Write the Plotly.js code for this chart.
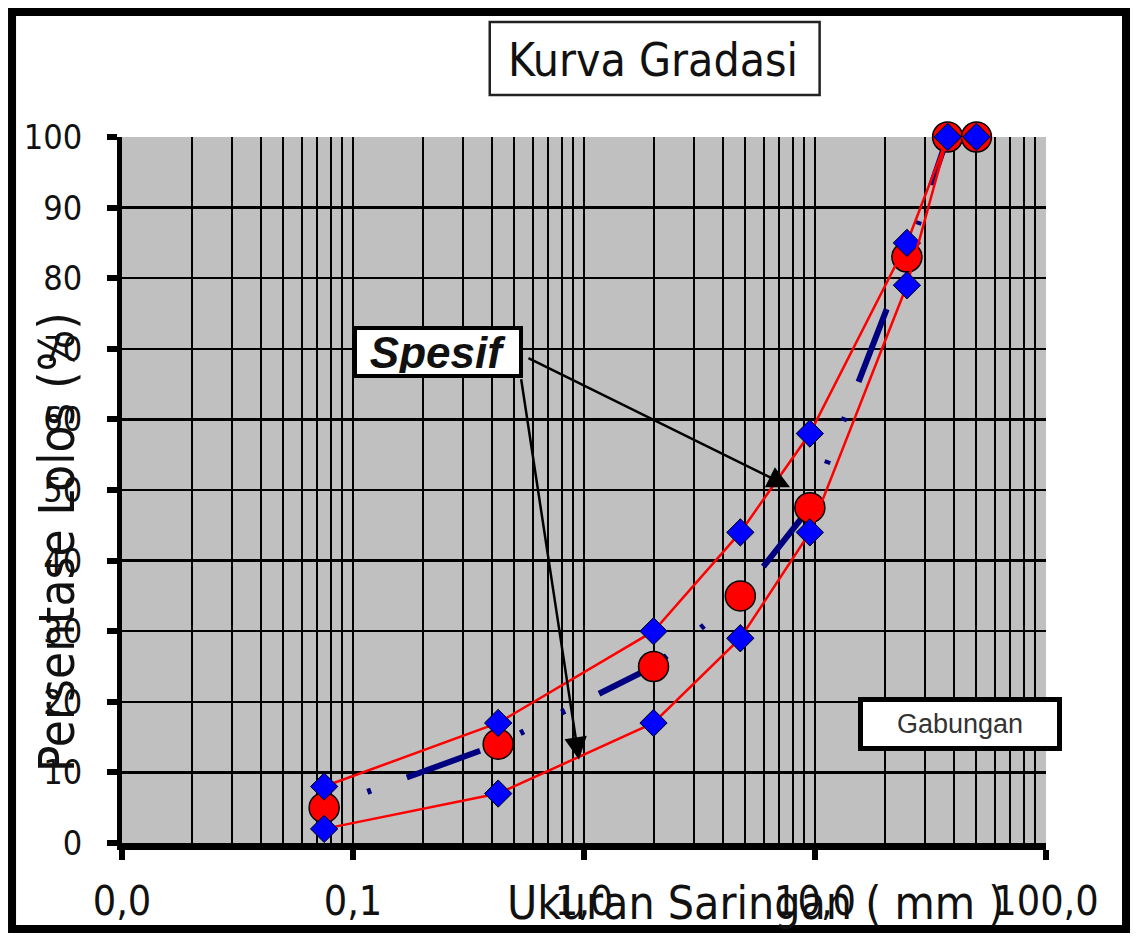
<!DOCTYPE html>
<html>
<head>
<meta charset="utf-8">
<script src="https://cdn.plot.ly/plotly-3.0.1.min.js"></script>
<style>html,body{margin:0;padding:0;background:#fff;}#chart{width:1136px;height:938px;}</style>
</head>
<body>
<div id="chart"></div>
<script>
// ---- data ----
const sieveSizes = [0.075, 0.425, 2.0, 4.75, 9.5, 25, 37.5, 50];
const specUpper  = [8, 17, 30, 44, 58, 85, 100, 100];
const specLower  = [2, 7, 17, 29, 44, 79, 100, 100];
const gabungan   = [5, 14, 25, 35, 47.5, 83, 100, 100];
const xTickVals  = [0.01, 0.1, 1, 10, 100];
const xTickText  = ['0,0', '0,1', '1,0', '10,0', '100,0'];
const yTickVals  = [0, 10, 20, 30, 40, 50, 60, 70, 80, 90, 100];

const NARROW = "'Liberation Sans Narrow', 'Arial Narrow', 'DejaVu Sans Condensed', 'Liberation Sans', sans-serif";
const ARIAL = "'Liberation Sans', Arial, sans-serif";

const traces = [
  {
    name: 'Gabungan', x: sieveSizes, y: gabungan, mode: 'lines+markers', type: 'scatter', cliponaxis: false,
    line: {color: '#000080', width: 6, dash: '4px,42px,4px,38px,78px,44px'},
    marker: {symbol: 'circle', size: 30, color: '#ff0000', line: {color: '#000', width: 1.5}}
  },
  {
    name: 'Spesifikasi atas', x: sieveSizes, y: specUpper, mode: 'lines+markers', type: 'scatter', cliponaxis: false,
    line: {color: '#ff0000', width: 2.5},
    marker: {symbol: 'diamond', size: 21, color: '#0000ff', line: {color: '#000', width: 1}}
  },
  {
    name: 'Spesifikasi bawah', x: sieveSizes, y: specLower, mode: 'lines+markers', type: 'scatter', cliponaxis: false,
    line: {color: '#ff0000', width: 2.5},
    marker: {symbol: 'diamond', size: 21, color: '#0000ff', line: {color: '#000', width: 1}}
  }
];

const layout = {
  width: 1136, height: 938,
  margin: {l: 122, r: 90, t: 137, b: 95, pad: 0},
  paper_bgcolor: '#ffffff', plot_bgcolor: '#c0c0c0',
  showlegend: false,
  title: {
    text: 'Kurva Gradasi', font: {family: NARROW, size: 46, color: '#111'},
    x: 653 / 1136, xref: 'container', xanchor: 'center',
    y: 1 - 60 / 938, yref: 'container', yanchor: 'middle'
  },
  xaxis: {
    type: 'log', range: [-2, 2], tickmode: 'array', tickvals: xTickVals, ticktext: xTickText,
    ticks: 'outside', ticklen: 10, tickwidth: 6, tickcolor: '#000',
    showline: true, linecolor: '#000', linewidth: 7, mirror: false,
    showgrid: true, gridcolor: '#000', gridwidth: 2, zeroline: false,
    minor: {dtick: 'D1', showgrid: true, gridcolor: '#000', gridwidth: 2, ticks: ''},
    tickfont: {family: NARROW, size: 41, color: '#111'},
    ticklabelstandoff: 6,
    fixedrange: true
  },
  yaxis: {
    range: [0, 100], tickmode: 'array', tickvals: yTickVals,
    ticks: 'outside', ticklen: 10, tickwidth: 6, tickcolor: '#000',
    showline: true, linecolor: '#000', linewidth: 5,
    showgrid: true, gridcolor: '#000', gridwidth: 2.5, zeroline: false,
    tickfont: {family: NARROW, size: 34, color: '#111'},
    ticklabelstandoff: 18,
    fixedrange: true
  },
  shapes: [
    // outer frame of the chart
    {type: 'rect', xref: 'paper', yref: 'paper', x0: -0.119, x1: 1.0866, y0: -0.1218, y1: 1.1771,
     line: {color: '#000', width: 8}, fillcolor: 'rgba(0,0,0,0)', layer: 'above'},
    // box round the title
    {type: 'rect', xref: 'paper', yref: 'paper', x0: 0.398, x1: 0.755, y0: 1.0595, y1: 1.163,
     line: {color: '#222', width: 2.5}, fillcolor: '#ffffff', layer: 'below'}
  ],
  annotations: [
    {text: 'Ukuran Saringan ( mm )', xref: 'paper', yref: 'paper',
     x: (755 - 122) / 924, y: (843 - 903) / 706, xanchor: 'center', yanchor: 'middle',
     showarrow: false, font: {family: NARROW, size: 46, color: '#111'}},
    {text: 'Persentase Lolos (%)', xref: 'paper', yref: 'paper', textangle: -90,
     x: (57 - 122) / 924, y: (843 - 542) / 706, xanchor: 'center', yanchor: 'middle',
     showarrow: false, font: {family: NARROW, size: 49, color: '#111'}},
    // arrows from the "Spesif" box
    {text: '', xref: 'x', yref: 'y', axref: 'x', ayref: 'y',
     x: 0.892, y: 50.4, ax: -0.247, ay: 68.8,
     showarrow: true, arrowhead: 2, arrowsize: 1.8, arrowwidth: 2.5, arrowcolor: '#000', standoff: 0, startstandoff: 0},
    {text: '', xref: 'x', yref: 'y', axref: 'x', ayref: 'y',
     x: -0.0216, y: 11.8, ax: -0.273, ay: 65.9,
     showarrow: true, arrowhead: 2, arrowsize: 1.8, arrowwidth: 2.5, arrowcolor: '#000', standoff: 0, startstandoff: 0},
    {text: '<b><i>Spesif</i></b>', xref: 'x', yref: 'y', x: -0.634, y: 69.6,
     xanchor: 'center', yanchor: 'middle', showarrow: false,
     font: {family: ARIAL, size: 44, color: '#111'},
     bgcolor: '#ffffff', bordercolor: '#000', borderwidth: 4, borderpad: 1, width: 160, height: 42},
    // legend box
    {text: 'Gabungan', xref: 'paper', yref: 'paper', x: (960 - 122) / 924, y: (843 - 724) / 706,
     xanchor: 'center', yanchor: 'middle', showarrow: false,
     font: {family: ARIAL, size: 27, color: '#333'},
     bgcolor: '#ffffff', bordercolor: '#000', borderwidth: 5, borderpad: 2, width: 190, height: 40}
  ]
};

Plotly.newPlot('chart', traces, layout, {displayModeBar: false, staticPlot: true});
</script>
</body>
</html>
